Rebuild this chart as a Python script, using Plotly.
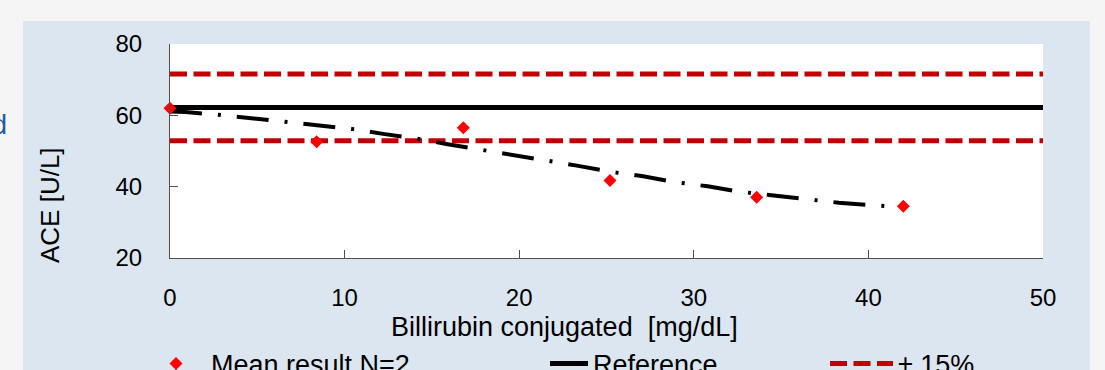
import plotly.graph_objects as go

# ---- data ----
conc = [0, 8.4, 16.8, 25.2, 33.6, 42.0]
mean_result = [62.0, 52.6, 56.5, 41.7, 37.0, 34.5]

ref_x = [0, 50]
reference = [62.2, 62.2]
upper_15 = [71.6, 71.6]
lower_15 = [52.9, 52.9]

trend_x = [0, 0.9, 2.7, 4.6, 6.6, 8.5, 10.4, 12.2, 14.1, 15.9, 17.8, 19.6,
           21.5, 23.3, 25.2, 27.1, 28.9, 30.8, 32.6, 34.5, 36.4, 38.3, 40.2, 42.1]
trend_y = [61.1, 60.9, 60.2, 59.25, 58.3, 57.3, 56.2, 54.8, 53.5, 51.9, 50.4, 48.8,
           47.4, 45.9, 44.2, 42.9, 41.3, 40.1, 38.6, 37.6, 36.5, 35.5, 34.8, 34.2]

x_ticks = [0, 10, 20, 30, 40, 50]
y_ticks = [20, 40, 60, 80]

FONT = "Liberation Sans, Arial, sans-serif"
RED = "#c00000"
AXIS = "#505050"
NB = "\u00a0"

fig = go.Figure()

fig.add_trace(go.Scatter(x=ref_x, y=upper_15, mode="lines", name="± 15%",
                         line=dict(color=RED, width=5, dash="17px,6.5px"),
                         legend="legend3", showlegend=True, cliponaxis=False))
fig.add_trace(go.Scatter(x=ref_x, y=lower_15, mode="lines", name="± 15%",
                         line=dict(color=RED, width=5, dash="17px,6.5px"),
                         legend="legend3", showlegend=False, cliponaxis=False))
fig.add_trace(go.Scatter(x=ref_x, y=reference, mode="lines", name="Reference",
                         line=dict(color="black", width=5),
                         legend="legend2", cliponaxis=False))
fig.add_trace(go.Scatter(x=trend_x, y=trend_y, mode="lines", name="trend",
                         line=dict(color="black", width=4, dash="32px,16px,3px,16px"),
                         showlegend=False))
fig.add_trace(go.Scatter(x=conc, y=mean_result, mode="markers",
                         name=NB + NB + "Mean result N=2",
                         marker=dict(symbol="diamond", color="#ff0000", size=10),
                         legend="legend", cliponaxis=False))

def px_x(p):
    return (p - 170) / 873.0

def px_y(p):
    return (258 - p) / 214.0

legend_common = dict(orientation="h", font=dict(family=FONT, size=27, color="black"),
                     bgcolor="rgba(0,0,0,0)", xanchor="left", yanchor="middle",
                     xref="paper", yref="paper", y=px_y(364))

fig.update_layout(
    width=1105, height=370,
    margin=dict(l=170, r=62, t=44, b=112, autoexpand=False),
    paper_bgcolor="#dce6f1",
    plot_bgcolor="white",
    font=dict(family=FONT, color="black"),
    legend=dict(**legend_common, x=px_x(156)),
    legend2=dict(**legend_common, x=px_x(545), itemwidth=38),
    legend3=dict(**legend_common, x=px_x(825), itemwidth=63),
    xaxis=dict(range=[0, 50], tickvals=x_ticks, ticks="inside", ticklen=8,
               tickcolor=AXIS, showline=True, linecolor=AXIS, linewidth=1,
               showgrid=False, zeroline=False, ticklabelstandoff=18,
               tickfont=dict(family=FONT, size=24, color="black")),
    yaxis=dict(range=[20, 80], tickvals=y_ticks, ticks="inside", ticklen=8,
               tickcolor=AXIS, showline=True, linecolor=AXIS, linewidth=1,
               showgrid=False, zeroline=False, ticklabelstandoff=22,
               tickfont=dict(family=FONT, size=24, color="black")),
    shapes=[
        dict(type="rect", xref="paper", yref="paper", layer="below",
             x0=px_x(-5), x1=px_x(1110), y0=px_y(21), y1=px_y(-5),
             fillcolor="#f5f5f5", line=dict(width=0)),
        dict(type="rect", xref="paper", yref="paper", layer="below",
             x0=px_x(-5), x1=px_x(23), y0=px_y(375), y1=px_y(-5),
             fillcolor="#f5f5f5", line=dict(width=0)),
        dict(type="rect", xref="paper", yref="paper", layer="below",
             x0=px_x(1090), x1=px_x(1110), y0=px_y(375), y1=px_y(-5),
             fillcolor="#f5f5f5", line=dict(width=0)),
    ],
    annotations=[
        dict(text="ACE [U/L]", textangle=-90, xref="paper", yref="paper",
             x=px_x(50), y=px_y(205), xanchor="center", yanchor="middle",
             showarrow=False, font=dict(family=FONT, size=26, color="black")),
        dict(text="Billirubin conjugated  [mg/dL]", xref="paper", yref="paper",
             x=px_x(564), y=px_y(327), xanchor="center", yanchor="middle",
             showarrow=False, font=dict(family=FONT, size=27, color="black")),
        dict(text="d", xref="paper", yref="paper",
             x=px_x(9), y=px_y(125), xanchor="right", yanchor="middle",
             showarrow=False, font=dict(family=FONT, size=27, color="#1e5aa0")),
    ],
)

fig.write_html(
    "out.html",
    config={"displayModeBar": False},
    post_script="document.body.style.margin='0';document.body.style.overflow='hidden';"
                "document.body.style.background='#f5f5f5';",
)
